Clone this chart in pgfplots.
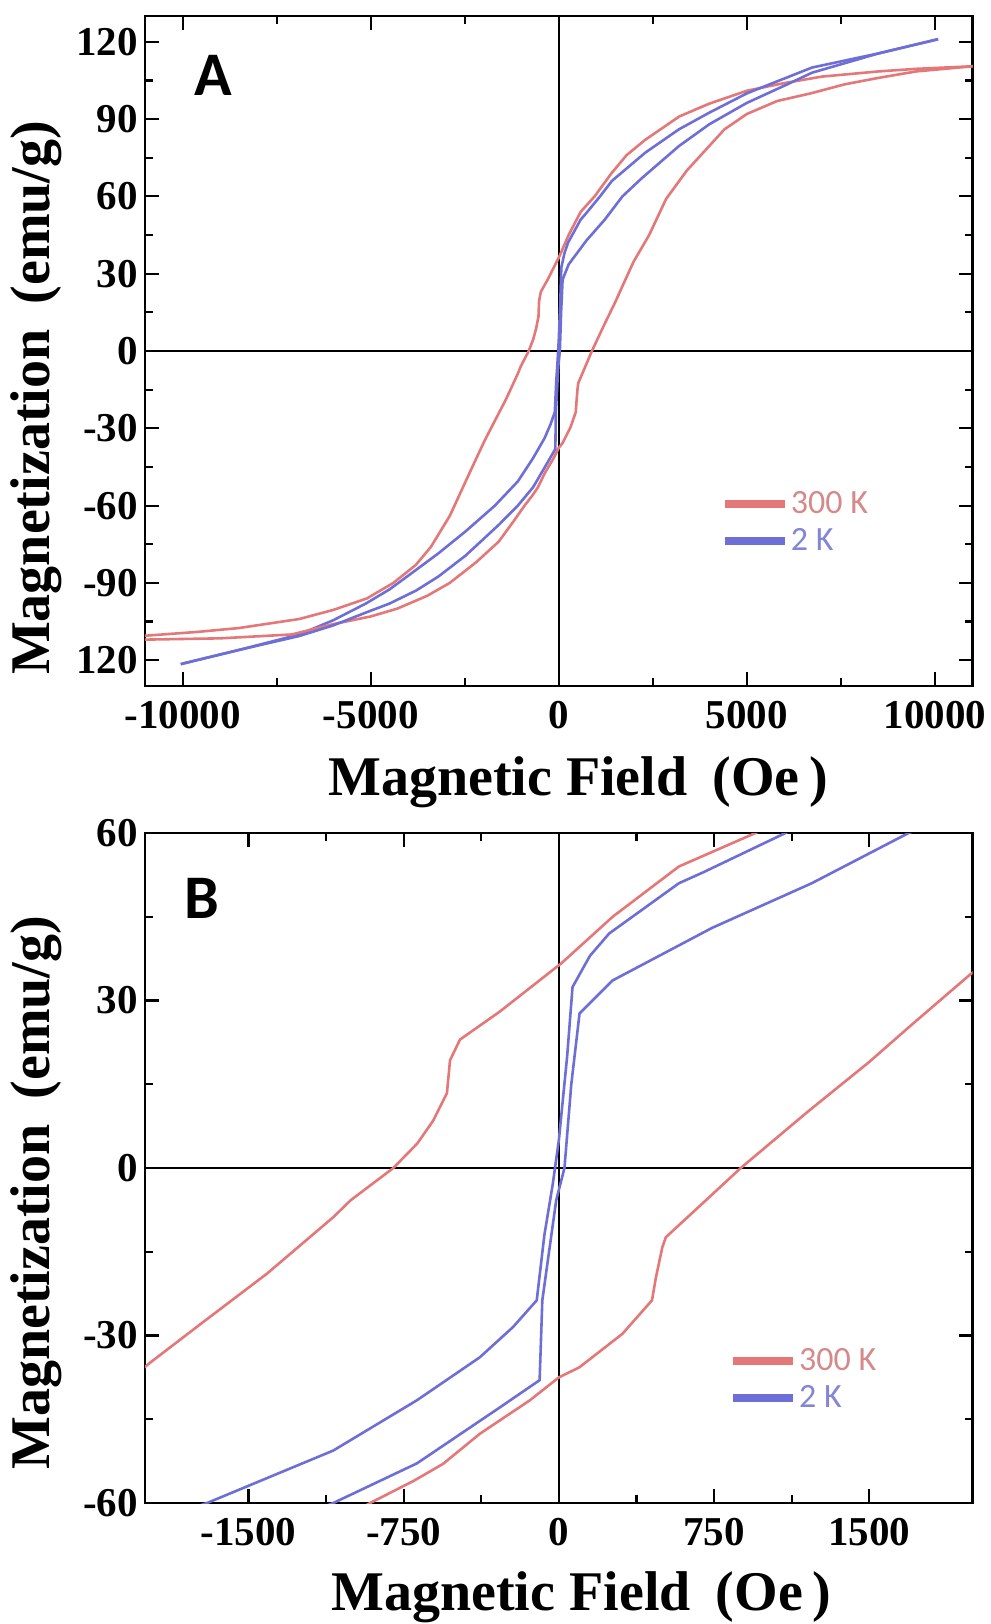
\documentclass[border=0pt]{standalone}
\usepackage{fontspec}
\setmainfont{Liberation Serif}
\newfontfamily\carlito{Carlito}
\usepackage{pgfplots}
\usepackage{pgfplotstable}
\pgfplotsset{compat=1.18}

\definecolor{R3}{HTML}{E47878}
\definecolor{B2}{HTML}{6E6ED7}
\definecolor{R3t}{HTML}{D48A8A}
\definecolor{B2t}{HTML}{8585D6}

% 300 K, field going down
\pgfplotstableread{
x y
11000 110.5
9500 109.5
8500 108.5
7000 106.5
6000 104
5000 101
4000 96
3200 91
2300 82
1800 76
1400 69
950 60
580 54
260 45
13 36.7
-286 28
-478 23
-526 19.3
-541 13.4
-607 8.5
-684 4.4
-800 0
-1007 -5.8
-1090 -8.8
-1410 -18.9
-1730 -27.9
-1980 -35
-2300 -45
-2900 -64
-3400 -76
-3800 -83
-4400 -90
-5100 -96
-6000 -100.5
-6900 -104
-8500 -107.5
-9600 -109
-11000 -110.5
}\redDown

% 300 K, field going up
\pgfplotstableread{
x y
-11000 -112
-9000 -111.5
-7100 -110
-6000 -106
-5000 -103
-4300 -100
-3500 -95
-2900 -90
-2200 -82
-1600 -74
-1200 -66
-912 -60
-700 -56
-560 -53
-382 -47.6
-140 -41.6
0 -37.5
99 -35.7
307 -29.7
450 -23.7
469 -19.6
500 -14.2
517 -12.4
710 -5.8
879 0
1200 10
1500 19
1700 25.5
1992 34.8
2400 45
2850 59
3400 70
3900 78
4400 86
5000 92
5800 97
6700 100
7600 103.5
8500 106
9500 108.5
11000 110.5
}\redUp

% 2 K, field going down
\pgfplotstableread{
x y
10080 121
8500 115.5
6730 110
5000 100
4000 92.5
3190 86
2300 77
1410 66
1095 60
700 53
580 51
243 42
150 38
66 32.4
40 20
0 5
-30 -3
-70 -12
-107 -23.7
-222 -28.5
-382 -33.9
-686 -41.6
-1090 -50.6
-1700 -60
-2480 -70
-3200 -78.5
-3800 -85
-4500 -92.5
-5130 -98
-6000 -104.5
-6900 -110
-8500 -116
-10050 -121.5
}\blueDown

% 2 K, field going up
\pgfplotstableread{
x y
-10050 -121.5
-8500 -116
-6900 -110.6
-6000 -106.5
-5130 -101.5
-4500 -98
-3800 -93
-3200 -87.5
-2480 -79.4
-1600 -67.5
-1090 -60
-686 -52.9
-286 -42.9
-93 -38
-80 -23.7
-13 -5.8
27 0
60 15
100 27.7
260 33.6
740 43
1222 51
1690 60
2200 67
3190 79.5
4000 88
5000 96.3
6000 103
6730 108
8500 115.5
10080 121
}\blueUp

\pgfplotsset{
  hyst/.style={
    width=413.85pt, height=335pt, scale only axis,
    axis line style={line width=1.4pt},
    tick align=inside, tick pos=both,
    major tick length=7pt, minor tick length=4pt,
    every tick/.append style={black, line width=1.1pt},
    minor x tick num=1, minor y tick num=1,
    scaled x ticks=false, scaled y ticks=false,
    ticklabel style={font=\fontsize{20.5}{20.5}\selectfont\bfseries},
    xticklabel style={yshift=-4pt},
    extra x ticks={0}, extra y ticks={0}, extra x tick labels={}, extra y tick labels={},
    extra tick style={grid=major, major grid style={black, line width=1pt}},
    xlabel={Magnetic Field\hspace{0.45em}(Oe\,)},
    ylabel={Magnetization\hspace{0.45em}(emu/g)},
    legend style={draw=none, fill=none, font=\carlito\fontsize{17}{19}\selectfont,
      nodes={inner sep=1pt}, row sep=4pt},
    legend cell align=left,
    legend image code/.code={\draw[line width=4pt] (0pt,0pt) -- (30pt,0pt);},
  },
  redline/.style={R3, line width=1.3pt},
  blueline/.style={B2, line width=1.3pt},
}

\begin{document}
\begin{tikzpicture}
\useasboundingbox (-72.5pt,-469pt) rectangle (423pt,343pt);

\begin{axis}[hyst, at={(0pt,0pt)}, anchor=south west,
  xmin=-11000, xmax=11000, ymin=-130, ymax=130,
  xtick={-10000,-5000,0,5000,10000},
  xticklabels={-10000,-5000,0,5000,10000},
  ytick={-120,-90,-60,-30,0,30,60,90,120},
  yticklabels={120,-90,-60,-30,0,30,60,90,120},
  every axis x label/.style={at={(axis description cs:0.523,-0.163)}, anchor=base,
    font=\fontsize{28}{28}\selectfont\bfseries},
  every axis y label/.style={at={(axis description cs:-0.115,0.43)}, anchor=base,
    rotate=90, font=\fontsize{28}{28}\selectfont\bfseries},
  legend style={at={(axis description cs:0.688,0.30)}, anchor=north west},
]
\addplot[redline] table {\redDown};
\addlegendentry{\textcolor{R3t}{300 K}}
\addplot[blueline] table {\blueDown};
\addlegendentry{\textcolor{B2t}{2 K}}
\addplot[redline, forget plot] table {\redUp};
\addplot[blueline, forget plot] table {\blueUp};
\node[anchor=west, font=\carlito\bfseries\fontsize{31}{31}\selectfont] at (rel axis cs:0.051,0.912) {A};
\end{axis}

\begin{axis}[hyst, at={(0pt,-408.5pt)}, anchor=south west,
  xmin=-2000, xmax=2000, ymin=-60, ymax=60,
  xtick={-1500,-750,0,750,1500},
  xticklabels={-1500,-750,0,750,1500},
  ytick={-60,-30,0,30,60},
  yticklabels={-60,-30,0,30,60},
  every axis x label/.style={at={(axis description cs:0.527,-0.16)}, anchor=base,
    font=\fontsize{28}{28}\selectfont\bfseries},
  every axis y label/.style={at={(axis description cs:-0.115,0.463)}, anchor=base,
    rotate=90, font=\fontsize{28}{28}\selectfont\bfseries},
  legend style={at={(axis description cs:0.698,0.24)}, anchor=north west},
]
\addplot[redline] table {\redDown};
\addlegendentry{\textcolor{R3t}{300 K}}
\addplot[blueline] table {\blueDown};
\addlegendentry{\textcolor{B2t}{2 K}}
\addplot[redline, forget plot] table {\redUp};
\addplot[blueline, forget plot] table {\blueUp};
\node[anchor=west, font=\carlito\bfseries\fontsize{31}{31}\selectfont] at (rel axis cs:0.039,0.903) {B};
\end{axis}
\end{tikzpicture}
\end{document}
